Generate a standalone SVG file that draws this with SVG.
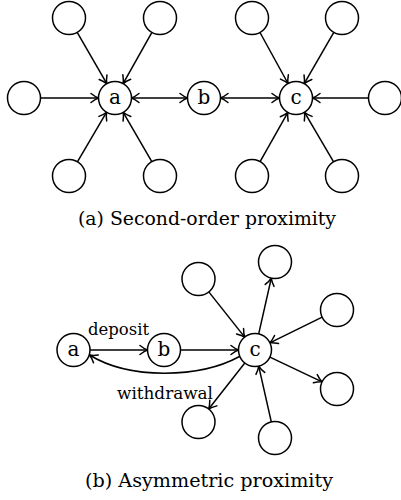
<svg xmlns="http://www.w3.org/2000/svg" width="401" height="500" viewBox="0 0 401 500">
<style>
.n{fill:#fff;stroke:#000;stroke-width:1.5}
.e{fill:none;stroke:#000;stroke-width:1.5}
.lbl{font-family:"DejaVu Serif",serif;font-size:20px;fill:#000;text-anchor:middle}
.el{font-family:"DejaVu Serif",serif;font-size:16px;fill:#000}
.cap{font-family:"DejaVu Serif",serif;font-size:19px;fill:#000}
</style>
<defs>
<marker id="ah" viewBox="-9 -6 11 12" refX="0" refY="0" markerWidth="11" markerHeight="12" markerUnits="userSpaceOnUse" orient="auto-start-reverse">
<path d="M-7.5,-4.5 Q-3,-1 0,0 Q-3,1 -7.5,4.5" fill="none" stroke="#000" stroke-width="1.5" stroke-linecap="round" stroke-linejoin="round"/>
</marker>
</defs>
<g id="connectors">
<g marker-end="url(#ah)" class="e">
<line x1="77.2" y1="32.3" x2="106.8" y2="83.7"/>
<line x1="151.9" y1="32.4" x2="123.1" y2="83.6"/>
<line x1="40.5" y1="98" x2="98.5" y2="98"/>
<line x1="77.4" y1="161.8" x2="106.6" y2="112.2"/>
<line x1="151.8" y1="161.7" x2="123.2" y2="112.3"/>
<line x1="131.5" y1="98" x2="187.5" y2="98" marker-start="url(#ah)"/>
<line x1="220.5" y1="98" x2="279.5" y2="98" marker-start="url(#ah)"/>
<line x1="260" y1="32.5" x2="288" y2="83.5"/>
<line x1="333.8" y1="32.3" x2="304.2" y2="83.7"/>
<line x1="368.5" y1="98" x2="312.5" y2="98"/>
<line x1="260.1" y1="161.6" x2="287.9" y2="112.4"/>
<line x1="333.6" y1="161.8" x2="304.4" y2="112.2"/>
<line x1="90" y1="350" x2="147.5" y2="350"/>
<line x1="180.5" y1="350" x2="238.5" y2="350"/>
<line x1="208.8" y1="291.9" x2="244.7" y2="337.1"/>
<line x1="258.7" y1="333.9" x2="271.3" y2="278.1"/>
<line x1="322.2" y1="317.2" x2="269.8" y2="342.8"/>
<line x1="269.9" y1="357.1" x2="322.1" y2="381.9"/>
<line x1="271.3" y1="421.9" x2="258.7" y2="366.1"/>
<line x1="244.8" y1="363" x2="208.7" y2="409"/>
<path d="M239.5,356.5 C200,378 130,380 89.5,355"/>
</g>
<text class="el" x="88" y="335" textLength="61" lengthAdjust="spacingAndGlyphs">deposit</text>
<text class="el" x="117" y="399" textLength="96" lengthAdjust="spacingAndGlyphs">withdrawal</text>
</g>
<g id="top-a"><circle class="n" cx="115" cy="98" r="16.5"/><text class="lbl" x="115" y="104">a</text></g>
<g id="top-b"><circle class="n" cx="204" cy="98" r="16.5"/><text class="lbl" x="204" y="104">b</text></g>
<g id="top-c"><circle class="n" cx="296" cy="98" r="16.5"/><text class="lbl" x="296" y="104">c</text></g>
<g id="a-n1"><circle class="n" cx="69" cy="18" r="16.5"/></g>
<g id="a-n2"><circle class="n" cx="160" cy="18" r="16.5"/></g>
<g id="a-n3"><circle class="n" cx="24" cy="98" r="16.5"/></g>
<g id="a-n4"><circle class="n" cx="69" cy="176" r="16.5"/></g>
<g id="a-n5"><circle class="n" cx="160" cy="176" r="16.5"/></g>
<g id="c-n1"><circle class="n" cx="252" cy="18" r="16.5"/></g>
<g id="c-n2"><circle class="n" cx="342" cy="18" r="16.5"/></g>
<g id="c-n3"><circle class="n" cx="385" cy="98" r="16.5"/></g>
<g id="c-n4"><circle class="n" cx="252" cy="176" r="16.5"/></g>
<g id="c-n5"><circle class="n" cx="342" cy="176" r="16.5"/></g>
<text class="cap" x="78" y="225" textLength="258" lengthAdjust="spacingAndGlyphs">(a) Second-order proximity</text>
<g id="bot-a"><circle class="n" cx="73.5" cy="350" r="16.5"/><text class="lbl" x="73.5" y="356">a</text></g>
<g id="bot-b"><circle class="n" cx="164" cy="350" r="16.5"/><text class="lbl" x="164" y="356">b</text></g>
<g id="bot-c"><circle class="n" cx="255" cy="350" r="16.5"/><text class="lbl" x="255" y="356">c</text></g>
<g id="b-n1"><circle class="n" cx="198.5" cy="279" r="16.5"/></g>
<g id="b-n2"><circle class="n" cx="275" cy="262" r="16.5"/></g>
<g id="b-n3"><circle class="n" cx="337" cy="310" r="16.5"/></g>
<g id="b-n4"><circle class="n" cx="337" cy="389" r="16.5"/></g>
<g id="b-n5"><circle class="n" cx="275" cy="438" r="16.5"/></g>
<g id="b-n6"><circle class="n" cx="198.5" cy="422" r="16.5"/></g>
<text class="cap" x="85" y="487" textLength="248" lengthAdjust="spacingAndGlyphs">(b) Asymmetric proximity</text>
</svg>
